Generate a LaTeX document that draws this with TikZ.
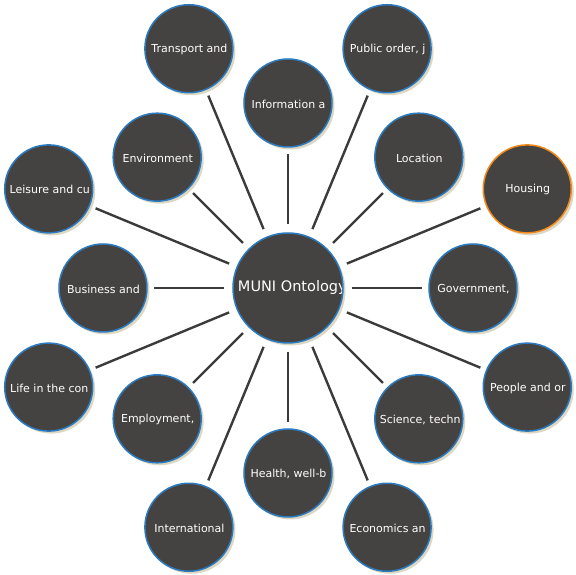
\documentclass[tikz,border=0pt]{standalone}
\usepackage{fontspec}
\setmainfont{DejaVu Sans}
\usetikzlibrary{shadows}
\definecolor{bubblefill}{HTML}{454341}
\definecolor{ringblue}{HTML}{2C7BC0}
\definecolor{ringorange}{HTML}{F28A1A}
\definecolor{shadowbeige}{HTML}{DDD8C4}
\definecolor{spokegray}{HTML}{3B3B3B}
\begin{document}
\begin{tikzpicture}[
        x=1pt, y=1pt,
        bubble/.style={circle, minimum size=88pt, inner sep=0pt, fill=bubblefill, draw=ringblue, line width=1.5pt,
            drop shadow={shadow xshift=2.5pt, shadow yshift=-2.5pt, fill=shadowbeige, opacity=1, draw=none},
            path picture={\node[text=white, font=\fontsize{11}{13}\selectfont, inner sep=0pt]
                at ([xshift=0.5pt, yshift=-1pt]path picture bounding box.center) {\hbox to 79pt{\hfil #1\hss}};}},
        hub/.style={bubble={}, minimum size=110pt,
            path picture={\node[text=white, font=\fontsize{14.5}{16}\selectfont, inner sep=0pt]
                at ([xshift=0.5pt]path picture bounding box.center) {\hbox to 101pt{\hfil #1\hss}};}},
        spoke/.style={spokegray, line width=2.4pt, shorten <=8pt, shorten >=6pt}
    ]
        \fill[white] (-288,-287) rectangle (288,288);
        \useasboundingbox (-288,-287) rectangle (288,288);

        \coordinate (c) at (0,0);

        % Centre
        \node[hub={MUNI Ontology}] (muni) at (c) {};

        % Inner ring
        \node[bubble={Government,}] (government) at (0:185) {};
        \node[bubble={Location}] (location) at (45:185) {};
        \node[bubble={Information a}] (information) at (90:185) {};
        \node[bubble={Environment}] (environment) at (135:185) {};
        \node[bubble={Business and}] (business) at (180:185) {};
        \node[bubble={Employment,}] (employment) at (225:185) {};
        \node[bubble={Health, well-b}] (health) at (270:185) {};
        \node[bubble={Science, techn}] (science) at (315:185) {};

        % Outer ring
        \node[bubble={Housing}, draw=ringorange] (housing) at (22.5:259) {};
        \node[bubble={Public order, j}] (publicorder) at (67.5:259) {};
        \node[bubble={Transport and}] (transport) at (112.5:259) {};
        \node[bubble={Leisure and cu}] (leisure) at (157.5:259) {};
        \node[bubble={Life in the con}] (life) at (202.5:259) {};
        \node[bubble={International}] (international) at (247.5:259) {};
        \node[bubble={Economics an}] (economics) at (292.5:259) {};
        \node[bubble={People and or}] (people) at (337.5:259) {};

        % Spokes
        \draw[spoke] (muni) -- (government);
        \draw[spoke] (muni) -- (location);
        \draw[spoke] (muni) -- (information);
        \draw[spoke] (muni) -- (environment);
        \draw[spoke] (muni) -- (business);
        \draw[spoke] (muni) -- (employment);
        \draw[spoke] (muni) -- (health);
        \draw[spoke] (muni) -- (science);
        \draw[spoke] (muni) -- (housing);
        \draw[spoke] (muni) -- (publicorder);
        \draw[spoke] (muni) -- (transport);
        \draw[spoke] (muni) -- (leisure);
        \draw[spoke] (muni) -- (life);
        \draw[spoke] (muni) -- (international);
        \draw[spoke] (muni) -- (economics);
        \draw[spoke] (muni) -- (people);

    \end{tikzpicture}
\end{document}
